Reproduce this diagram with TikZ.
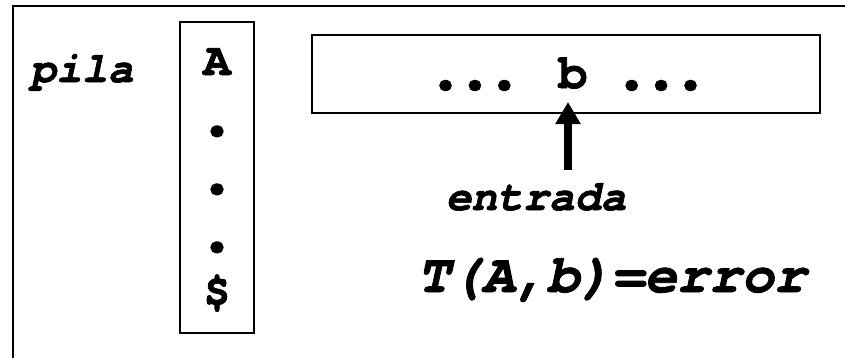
\documentclass[tikz,border=0pt]{standalone}
\usepackage{fontspec}
\usetikzlibrary{arrows.meta}
\newfontfamily\cour[FakeBold=1.5]{TeX Gyre Cursor}
\newfontfamily\courdot[FakeBold=10]{TeX Gyre Cursor}
\tikzset{
  frameline/.style={line width=2pt, line cap=rect},
  boxline/.style={draw, line width=2.2pt, inner sep=0pt},
  mono/.style={font=\cour\bfseries\fontsize{49}{56}\selectfont, inner sep=0pt, anchor=base},
  monoit/.style={font=\cour\bfseries\itshape\fontsize{43}{50}\selectfont, inner sep=0pt, anchor=base},
  bigit/.style={font=\cour\bfseries\itshape\fontsize{54}{62}\selectfont, inner sep=0pt, anchor=base},
  stackitem/.style={font=\cour\bfseries\fontsize{46}{54}\selectfont, inner sep=0pt, anchor=base},
  stackdot/.style={font=\courdot\bfseries\fontsize{52}{60}\selectfont, inner sep=0pt, anchor=base},
}
\begin{document}
\begin{tikzpicture}[x=1pt,y=-1pt]
\useasboundingbox (0,0) rectangle (845,357);
% outer frame (only top and left visible)
\coordinate (fbl) at (13,357);
\coordinate (ftl) at (13,6);
\coordinate (ftr) at (845,6);
\draw[frameline] (fbl) -- (ftl) -- (ftr);
% stack
\node[boxline, minimum width=74pt, minimum height=311pt] (stack) at (217,177.5) {};
\node[monoit] (pila) at (82,82) {pila};
\node[stackitem] (sA) at (217,75) {A};
\node[stackdot] (d1) at (217,134) {.};
\node[stackdot] (d2) at (217,192) {.};
\node[stackdot] (d3) at (217,250) {.};
\node[stackitem] (sD) at (217,306) {\$};
% input
\node[boxline, minimum width=508pt, minimum height=78pt] (inbox) at (566,74) {};
\node[mono] (intext) at (568,88) {{\courdot...} b {\courdot...}};
\coordinate (arrowtail) at (568,170);
\coordinate (arrowtip) at (568,102);
\draw[line width=8pt, -{Triangle[length=22pt,width=24pt]}] (arrowtail) -- (arrowtip);
\node[monoit] (entrada) at (536,210) {entrada};
\node[bigit] (terr) at (612,292) {T(A,b)=error};
\end{tikzpicture}
\end{document}
